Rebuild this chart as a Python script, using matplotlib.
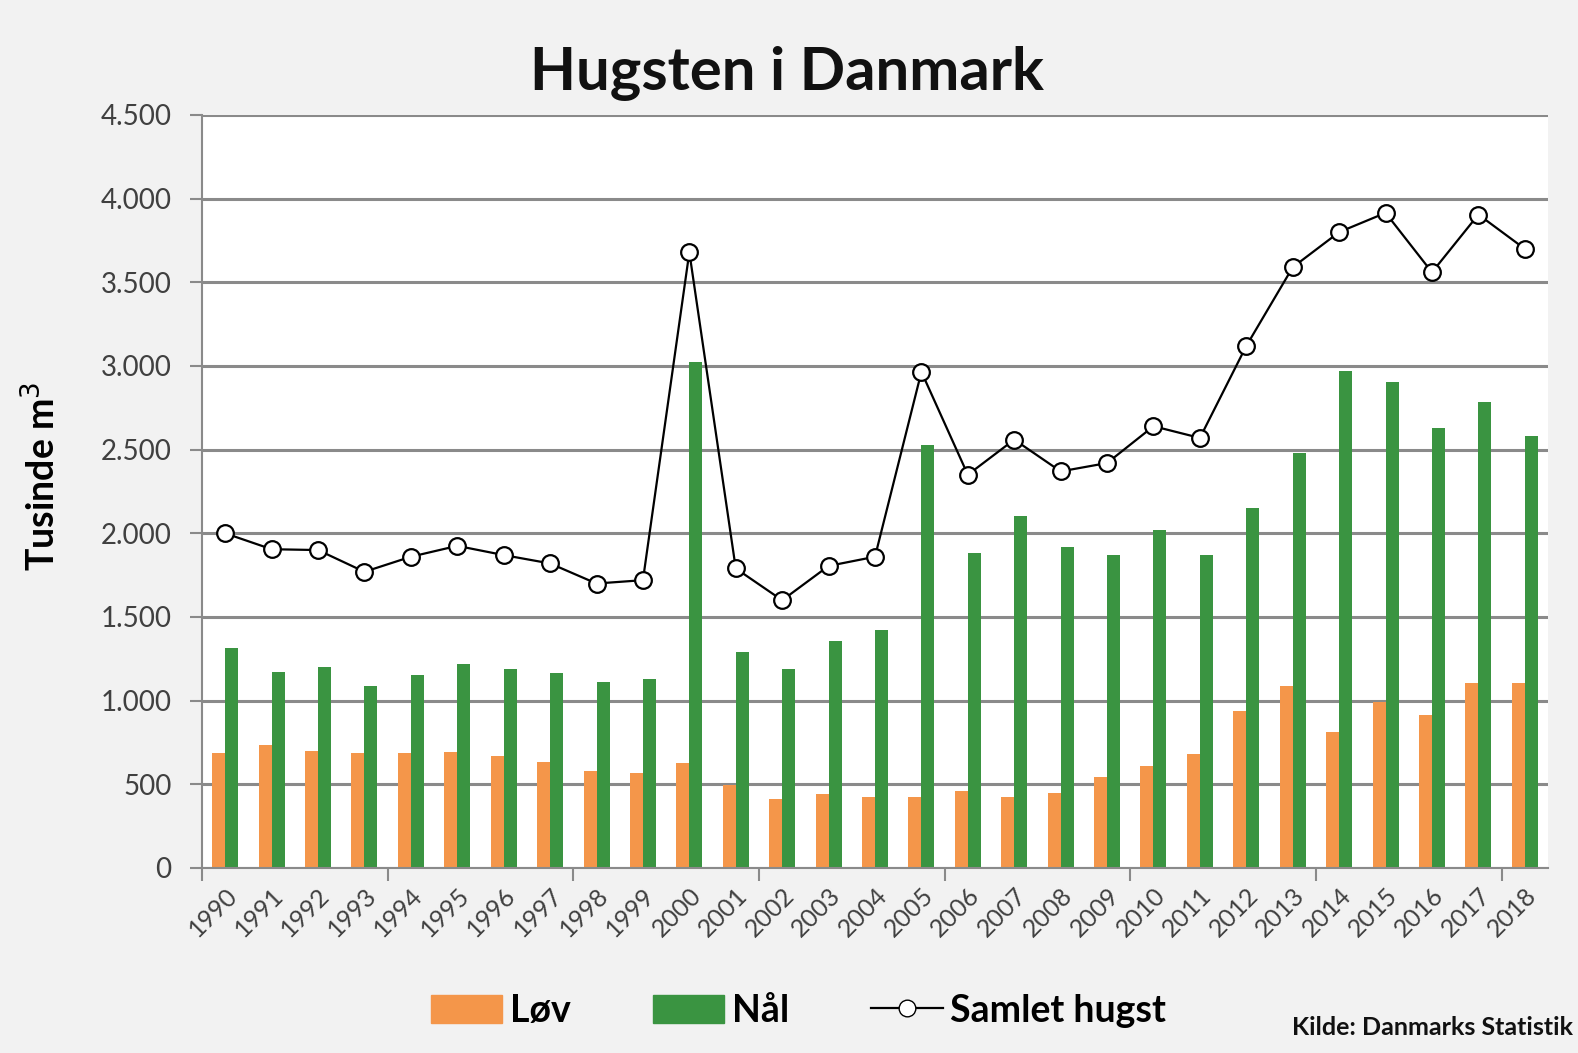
import numpy as np
import matplotlib.pyplot as plt
from matplotlib.patches import Patch
from matplotlib.lines import Line2D

## data (tusinde m3)
years = [str(y) for y in range(1990, 2019)]

lov = [686, 735, 700, 686, 686, 696, 667, 631, 582, 569,
       627, 494, 412, 445, 427, 427, 461, 427, 447, 545,
       612, 682, 937, 1088, 814, 994, 912, 1108, 1108]

naal = [1315, 1170, 1200, 1090, 1155, 1220, 1190, 1165, 1110, 1130,
        3025, 1290, 1190, 1355, 1420, 2530, 1880, 2105, 1920, 1870,
        2020, 1870, 2150, 2480, 2970, 2905, 2630, 2785, 2580]

samlet = [2000, 1905, 1900, 1770, 1860, 1925, 1870, 1820, 1700, 1720,
          3680, 1790, 1600, 1805, 1860, 2965, 2350, 2560, 2370, 2420,
          2640, 2570, 3120, 3590, 3800, 3915, 3560, 3905, 3700]

yticks = [0, 500, 1000, 1500, 2000, 2500, 3000, 3500, 4000, 4500]
ytick_labels = ["0", "500", "1.000", "1.500", "2.000", "2.500",
                "3.000", "3.500", "4.000", "4.500"]

orange = "#f4964a"
green = "#3a9441"
grid_col = "#8a8a8a"
txt_col = "#404040"

plt.rcParams["font.family"] = ["Lato", "DejaVu Sans"]

fig = plt.figure(figsize=(15.78, 10.53), dpi=100, facecolor="#f2f2f2")
ax = fig.add_axes([0.128, 0.1757, 0.853, 0.7151])
ax.set_facecolor("white")

x = np.arange(len(years))
w = 0.28
ax.bar(x - w/2, lov, width=w, color=orange, zorder=2)
ax.bar(x + w/2, naal, width=w, color=green, zorder=2)
ax.plot(x, samlet, color="black", lw=1.6, marker="o", ms=12,
        mfc="white", mec="black", mew=1.6, zorder=3)

ax.set_xlim(-0.5, len(years) - 0.5)
ax.set_ylim(0, 4500)

ax.set_yticks(yticks)
ax.set_yticklabels(ytick_labels, fontsize=20, color=txt_col)
ax.yaxis.grid(True, color=grid_col, lw=2.2, zorder=1)
ax.tick_params(axis="y", length=9, width=1.5, color=grid_col, pad=13)

ax.set_xticks(x)
ax.set_xticklabels(years, rotation=45, ha="right", rotation_mode="anchor",
                   fontsize=18, color=txt_col)
ax.tick_params(axis="x", length=0, pad=11)
ax.set_xticks(np.arange(-0.5, len(years), 4), minor=True)
ax.tick_params(axis="x", which="minor", length=9, width=1.5, color=grid_col)

for s in ["top", "right"]:
    ax.spines[s].set_visible(False)
for s in ["left", "bottom"]:
    ax.spines[s].set_color(grid_col)
    ax.spines[s].set_linewidth(1.5)

ax.set_ylabel("Tusinde m$^3$", fontsize=27, fontweight="bold")
ax.yaxis.set_label_coords(-0.104, 0.52)

fig.text(0.499, 0.930, "Hugsten i Danmark", ha="center", va="center",
         fontsize=43, fontweight="bold", color="#111111")

handles = [Patch(color=orange, label="Løv"),
           Patch(color=green, label="Nål"),
           Line2D([], [], color="black", lw=1.6, marker="o", ms=12,
                  mfc="white", mec="black", label="Samlet hugst")]
fig.legend(handles=handles, loc="center", bbox_to_anchor=(0.506, 0.040),
           ncol=3, frameon=False, prop={"size": 27, "weight": "bold"},
           handlelength=1.9, handleheight=0.8, columnspacing=2.2,
           handletextpad=0.2)

fig.text(0.997, 0.024, "Kilde: Danmarks Statistik", ha="right", va="center",
         fontsize=18, fontweight="bold", color="#111111")

plt.savefig("out.png", dpi=100, facecolor=fig.get_facecolor())
